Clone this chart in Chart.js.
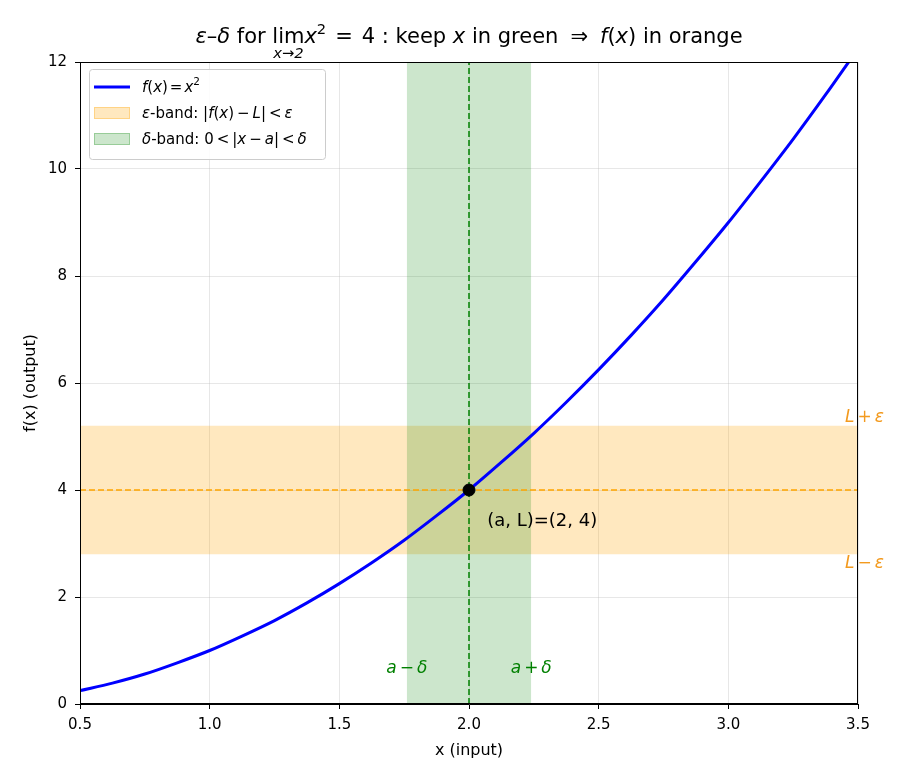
<!DOCTYPE html>
<html>
<head>
<meta charset="utf-8">
<script src="https://cdn.jsdelivr.net/npm/chart.js@4"></script>
<style>
  html, body { margin: 0; padding: 0; background: #fff; }
  #wrap { width: 910px; height: 780px; }
</style>
</head>
<body>
<div id="wrap"><canvas id="canvas" width="910" height="780"></canvas></div>
<script>
// valeurs
const curveX = [0.5, 0.625, 0.75, 0.875, 1.0, 1.125, 1.25, 1.375, 1.5, 1.625, 1.75, 1.875, 2.0,
  2.125, 2.25, 2.375, 2.5, 2.625, 2.75, 2.875, 3.0, 3.125, 3.25, 3.375, 3.5];
const curveY = [0.25, 0.39, 0.56, 0.77, 1.0, 1.27, 1.56, 1.89, 2.25, 2.64, 3.06, 3.52, 4.0,
  4.52, 5.06, 5.64, 6.25, 6.89, 7.56, 8.27, 9.0, 9.77, 10.56, 11.39, 12.25];
const limitPoint = [2, 4];          // (a, L)
const epsBand = [2.8, 5.2];         // L - eps, L + eps
const deltaBand = [1.76, 2.24];     // a - delta, a + delta
const xRange = [0.5, 3.5];
const yRange = [0, 12];
const xTicks = [0.5, 1.0, 1.5, 2.0, 2.5, 3.0, 3.5];
const yTicks = [0, 2, 4, 6, 8, 10, 12];

const FONT = "'DejaVu Sans', sans-serif";
const ORANGE = "#FFA500";
const GREEN = "#008000";

// texte en morceaux : italique, exposant, indice sous "lim", espaces fixes
function runsWidth(ctx, runs, size) {
  let w = 0;
  runs.forEach((r) => {
    if (r.gap) { w += r.gap; return; }
    const s = r.sup ? size * 0.7 : size;
    ctx.font = (r.it ? "italic " : "") + s + "px " + FONT;
    w += ctx.measureText(r.t).width;
  });
  return w;
}
function drawRuns(ctx, runs, x, y, size, color, align) {
  const w = runsWidth(ctx, runs, size);
  let cx = align === "center" ? x - w / 2 : x;
  ctx.save();
  ctx.fillStyle = color;
  ctx.textBaseline = "alphabetic";
  ctx.textAlign = "left";
  runs.forEach((r) => {
    if (r.gap) { cx += r.gap; return; }
    const s = r.sup ? size * 0.7 : size;
    ctx.font = (r.it ? "italic " : "") + s + "px " + FONT;
    const rw = ctx.measureText(r.t).width;
    ctx.fillText(r.t, cx, r.sup ? y - size * 0.45 : y);
    if (r.under) {
      ctx.font = "italic " + size * 0.7 + "px " + FONT;
      ctx.textAlign = "center";
      ctx.fillText(r.under, cx + rw / 2, y + size * 0.7);
      ctx.textAlign = "left";
    }
    cx += rw;
  });
  ctx.restore();
}

const titleRuns = [
  { t: "ε", it: true }, { t: "–" }, { t: "δ", it: true }, { t: " for " },
  { t: "lim", under: "x→2" }, { t: "x", it: true }, { t: "2", sup: true },
  { gap: 9 }, { t: "=" }, { gap: 9 }, { t: "4" }, { t: " : keep " }, { t: "x", it: true },
  { t: " in green" }, { gap: 12 }, { t: "⇒" }, { gap: 12 },
  { t: "f", it: true }, { t: "(" }, { t: "x", it: true }, { t: ")" }, { t: " in orange" },
];

const legendItems = [
  { kind: "line", color: "#0000FF",
    runs: [{ t: "f", it: true }, { t: "(" }, { t: "x", it: true }, { t: ")" }, { gap: 2 }, { t: "=" }, { gap: 2 }, { t: "x", it: true }, { t: "2", sup: true }] },
  { kind: "patch", fill: "rgba(255,165,0,0.25)", edge: "rgba(255,165,0,0.3)",
    runs: [{ t: "ε", it: true }, { t: "-band: |" }, { t: "f", it: true }, { t: "(" }, { t: "x", it: true }, { t: ")" }, { gap: 3 }, { t: "−" }, { gap: 3 }, { t: "L", it: true }, { t: "|" }, { gap: 3 }, { t: "<" }, { gap: 3 }, { t: "ε", it: true }] },
  { kind: "patch", fill: "rgba(0,128,0,0.2)", edge: "rgba(0,128,0,0.25)",
    runs: [{ t: "δ", it: true }, { t: "-band: 0" }, { gap: 3 }, { t: "<" }, { gap: 3 }, { t: "|" }, { t: "x", it: true }, { gap: 3 }, { t: "−" }, { gap: 3 }, { t: "a", it: true }, { t: "|" }, { gap: 3 }, { t: "<" }, { gap: 3 }, { t: "δ", it: true }] },
];

const decorPlugin = {
  id: "decor",
  afterDraw(chart) {
    const ctx = chart.ctx;
    const xs = chart.scales.x;
    const ys = chart.scales.y;
    const a = chart.chartArea;

    // cadre complet
    ctx.save();
    ctx.strokeStyle = "#000";
    ctx.lineWidth = 1;
    ctx.strokeRect(a.left + 0.5, a.top + 0.5, a.right - a.left - 1, a.bottom - a.top - 1);
    ctx.restore();

    // titre
    drawRuns(ctx, titleRuns, (a.left + a.right) / 2, 43, 21, "#000", "center");

    // annotation du point
    ctx.save();
    ctx.font = "18px " + FONT;
    ctx.fillStyle = "#000";
    ctx.textBaseline = "middle";
    ctx.fillText("(a, L)=(2, 4)", xs.getPixelForValue(2.07), ys.getPixelForValue(3.42));
    ctx.restore();

    const lbl = (runs, xv, yv, color, align) => {
      drawRuns(ctx, runs, xs.getPixelForValue(xv), ys.getPixelForValue(yv) + 6, 17, color, align);
    };
    lbl([{ t: "L", it: true }, { gap: 3 }, { t: "+" }, { gap: 3 }, { t: "ε", it: true }], 3.45, epsBand[1] + 0.18, "#F39A1E", "left");
    lbl([{ t: "L", it: true }, { gap: 3 }, { t: "−" }, { gap: 3 }, { t: "ε", it: true }], 3.45, epsBand[0] - 0.15, "#F39A1E", "left");
    lbl([{ t: "a", it: true }, { gap: 3 }, { t: "−" }, { gap: 3 }, { t: "δ", it: true }], deltaBand[0], 0.7, GREEN, "center");
    lbl([{ t: "a", it: true }, { gap: 3 }, { t: "+" }, { gap: 3 }, { t: "δ", it: true }], deltaBand[1], 0.7, GREEN, "center");

    // légende
    const lx = a.left + 9, ly = a.top + 7, lw = 236, lh = 90;
    ctx.save();
    ctx.fillStyle = "rgba(255,255,255,0.85)";
    ctx.strokeStyle = "#cccccc";
    ctx.lineWidth = 1;
    ctx.beginPath();
    ctx.roundRect(lx + 0.5, ly + 0.5, lw, lh, 3);
    ctx.fill();
    ctx.stroke();
    legendItems.forEach((it, i) => {
      const cy = ly + 18 + i * 26;
      if (it.kind === "line") {
        ctx.strokeStyle = it.color;
        ctx.lineWidth = 3;
        ctx.beginPath();
        ctx.moveTo(lx + 5, cy);
        ctx.lineTo(lx + 41, cy);
        ctx.stroke();
      } else {
        ctx.fillStyle = it.fill;
        ctx.strokeStyle = it.edge;
        ctx.lineWidth = 1;
        ctx.fillRect(lx + 5, cy - 6, 36, 12);
        ctx.strokeRect(lx + 5.5, cy - 5.5, 35, 11);
      }
      drawRuns(ctx, it.runs, lx + 53, cy + 5, 15, "#000", "left");
    });
    ctx.restore();
  },
};

const ctx = document.getElementById("canvas").getContext("2d");
new Chart(ctx, {
  type: "line",
  data: {
    datasets: [
      {
        label: "point",
        data: [{ x: limitPoint[0], y: limitPoint[1] }],
        showLine: false,
        pointRadius: 6,
        pointBackgroundColor: "#000",
        pointBorderColor: "#000",
        order: 0,
      },
      {
        label: "f(x) = x^2",
        data: curveX.map((x, i) => ({ x: x, y: curveY[i] })),
        borderColor: "#0000FF",
        borderWidth: 3,
        pointRadius: 0,
        cubicInterpolationMode: "monotone",
        fill: false,
        order: 1,
      },
      {
        label: "L",
        data: [{ x: xRange[0], y: limitPoint[1] }, { x: xRange[1], y: limitPoint[1] }],
        borderColor: ORANGE,
        borderWidth: 1.5,
        borderDash: [6, 3],
        pointRadius: 0,
        fill: false,
        order: 2,
      },
      {
        label: "a",
        data: [{ x: limitPoint[0], y: yRange[0] }, { x: limitPoint[0], y: yRange[1] }],
        borderColor: GREEN,
        borderWidth: 1.5,
        borderDash: [6, 3],
        pointRadius: 0,
        fill: false,
        order: 2,
      },
      {
        label: "delta-band",
        data: [{ x: deltaBand[0], y: yRange[1] }, { x: deltaBand[1], y: yRange[1] }],
        borderColor: "rgba(0,128,0,0.2)",
        borderWidth: 0,
        backgroundColor: "rgba(0,128,0,0.2)",
        pointRadius: 0,
        fill: { value: yRange[0] },
        order: 3,
      },
      {
        label: "eps-band",
        data: [{ x: xRange[0], y: epsBand[1] }, { x: xRange[1], y: epsBand[1] }],
        borderColor: "rgba(255,165,0,0.25)",
        borderWidth: 0,
        backgroundColor: "rgba(255,165,0,0.25)",
        pointRadius: 0,
        fill: { value: epsBand[0] },
        order: 4,
      },
    ],
  },
  options: {
    responsive: false,
    animation: false,
    layout: { padding: { top: 62, right: 52, left: 0, bottom: 0 } },
    plugins: {
      legend: { display: false },
      tooltip: { enabled: false },
    },
    scales: {
      x: {
        type: "linear",
        min: xRange[0],
        max: xRange[1],
        afterFit: (s) => { s.height = 76; },
        afterBuildTicks: (s) => { s.ticks = xTicks.map((v) => ({ value: v })); },
        ticks: {
          color: "#000",
          font: { family: FONT, size: 15 },
          padding: 7,
          maxRotation: 0,
          callback: (v) => v.toFixed(1),
        },
        grid: { color: "rgba(176,176,176,0.3)", tickColor: "#000", tickLength: 5 },
        border: { color: "#000" },
        title: { display: true, text: "x (input)", color: "#000", font: { family: FONT, size: 16 }, padding: { top: 0, bottom: 20 } },
      },
      y: {
        type: "linear",
        min: yRange[0],
        max: yRange[1],
        afterFit: (s) => { s.width = 80; },
        afterBuildTicks: (s) => { s.ticks = yTicks.map((v) => ({ value: v })); },
        ticks: {
          color: "#000",
          font: { family: FONT, size: 15 },
          padding: 8,
        },
        grid: { color: "rgba(176,176,176,0.3)", tickColor: "#000", tickLength: 5 },
        border: { color: "#000" },
        title: { display: true, text: "f(x) (output)", color: "#000", font: { family: FONT, size: 16 }, padding: { top: 21, bottom: 0 } },
      },
    },
  },
  plugins: [decorPlugin],
});
</script>
</body>
</html>
